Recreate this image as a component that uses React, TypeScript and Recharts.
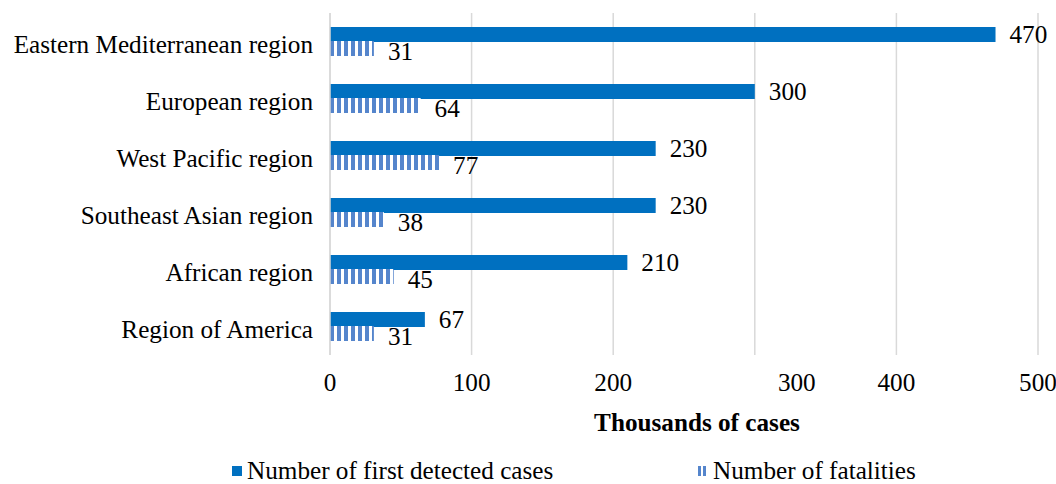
import { BarChart, Bar, XAxis, YAxis, CartesianGrid, LabelList, Legend } from 'recharts';

/** 地区 */
const REGIONS = [
  'Eastern Mediterranean region',
  'European region',
  'West Pacific region',
  'Southeast Asian region',
  'African region',
  'Region of America',
];

/** 首次检出病例（千） */
const FIRST_CASES = [470, 300, 230, 230, 210, 67];

/** 死亡人数 */
const FATALITIES = [31, 64, 77, 38, 45, 31];

const X_TICKS = [0, 100, 200, 300, 400, 500];

const FONT = '"Liberation Serif", "Times New Roman", serif';
const FS = 25.2;
const BLUE = '#0070C0';
const STRIPE = '#5585CC';

const data = REGIONS.map((region, i) => ({ region, cases: FIRST_CASES[i], deaths: FATALITIES[i] }));

// 原图中 "300" 标签偏右
function XTick({ x, y, payload }: any) {
  const shift = payload.value === 300 ? 42 : 0;
  return (
    <text x={x + shift} y={y} dy={28} textAnchor="middle" fontFamily={FONT} fontSize={FS} fill="#000">
      {payload.value}
    </text>
  );
}

function YTick({ x, y, payload }: any) {
  return (
    <text x={x} y={y} dy={11} textAnchor="end" fontFamily={FONT} fontSize={FS} fill="#000">
      {payload.value}
    </text>
  );
}

function LegendContent() {
  const text = { fontFamily: FONT, fontSize: FS, lineHeight: '28px', color: '#000', position: 'absolute' as const, top: 0, whiteSpace: 'nowrap' as const };
  return (
    <div style={{ position: 'relative', width: 1056, height: 28 }}>
      <div style={{ position: 'absolute', left: 232, top: 9, width: 10, height: 10, background: BLUE }} />
      <span style={{ ...text, left: 247 }}>Number of first detected cases</span>
      <div style={{ position: 'absolute', left: 698, top: 9, width: 3, height: 10, background: STRIPE }} />
      <div style={{ position: 'absolute', left: 703, top: 9, width: 3, height: 10, background: STRIPE }} />
      <span style={{ ...text, left: 713 }}>Number of fatalities</span>
    </div>
  );
}

export default function App() {
  return (
    <div style={{ position: 'absolute', left: 0, top: 0, width: 1056, height: 484, background: '#fff' }}>
      <BarChart
        width={1056}
        height={484}
        data={data}
        layout="vertical"
        margin={{ top: 13, right: 18, bottom: 49, left: 0 }}
        barCategoryGap={13}
        barGap={-1}
      >
        <defs>
          <pattern id="vstripes" width={7} height={10} patternUnits="userSpaceOnUse">
            <rect x={0} y={0} width={7} height={10} fill="#fff" />
            <rect x={1} y={0} width={4} height={10} fill={STRIPE} />
          </pattern>
        </defs>
        <CartesianGrid horizontal={false} stroke="#d9d9d9" strokeWidth={1.5} />
        <XAxis
          type="number"
          domain={[0, 500]}
          ticks={X_TICKS}
          axisLine={false}
          tickLine={false}
          height={80}
          tick={<XTick />}
          label={{ value: 'Thousands of cases', position: 'insideBottom', offset: 4, dx: 13, style: { fontFamily: FONT, fontSize: FS, fontWeight: 'bold', fill: '#000' } }}
        />
        <YAxis
          type="category"
          dataKey="region"
          width={330}
          tickLine={false}
          axisLine={{ stroke: '#d9d9d9', strokeWidth: 1.5 }}
          tickMargin={11}
          tick={<YTick />}
        />
        <Bar dataKey="cases" name="Number of first detected cases" fill={BLUE} barSize={15} isAnimationActive={false}>
          <LabelList dataKey="cases" position="right" offset={14} style={{ fontFamily: FONT, fontSize: FS, fill: '#000' }} />
        </Bar>
        <Bar dataKey="deaths" name="Number of fatalities" fill="url(#vstripes)" barSize={15} isAnimationActive={false}>
          <LabelList dataKey="deaths" position="right" offset={14} dy={3} style={{ fontFamily: FONT, fontSize: FS, fill: '#000' }} />
        </Bar>
        <Legend verticalAlign="middle" align="center" wrapperStyle={{ top: 457, left: 0, width: 1056 }} content={<LegendContent />} />
      </BarChart>
    </div>
  );
}
